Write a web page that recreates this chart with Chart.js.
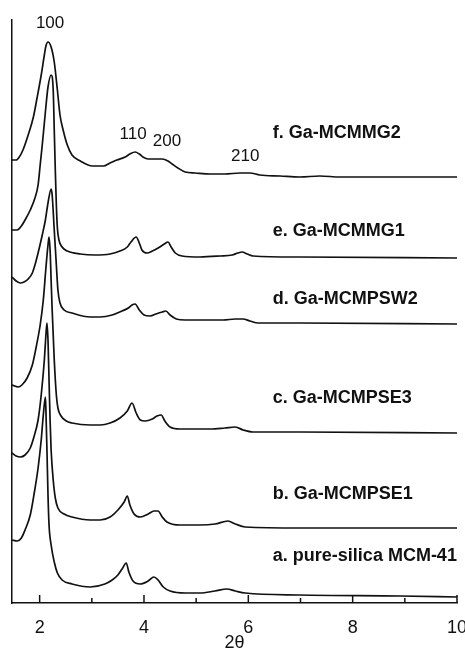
<!DOCTYPE html>
<html>
<head>
<meta charset="utf-8">
<script src="https://cdn.jsdelivr.net/npm/chart.js@4.4.1/dist/chart.umd.min.js"></script>
<style>
  body { margin: 0; background: #fff; }
  canvas { display: block; }
</style>
</head>
<body>
<canvas id="xrdChart" width="465" height="652"></canvas>
<script>
// 2θ (deg) and stacked intensity (a.u.) for each sample
const angleA = [1.47,1.57,1.65,1.72,1.82,1.89,1.97,2.03,2.07,2.11,2.12,2.14,2.16,2.18,2.22,2.28,2.34,2.43,2.62,2.97,3.25,3.39,3.50,3.58,3.66,3.71,3.79,3.93,4.08,4.19,4.27,4.37,4.50,4.79,5.07,5.36,5.59,5.75,5.94,6.99,8.91,10.00];
const intensityA = [63,62,65,73,88,108,135,163,188,206,193,153,108,78,58,41,30,23,19,16,19,23,28,34,40,31,22,19,22,26,23,16,12,10,10,12,14,12,10,8,7,6];

const angleB = [1.47,1.55,1.63,1.72,1.82,1.89,1.97,2.03,2.09,2.12,2.14,2.16,2.18,2.20,2.22,2.26,2.30,2.35,2.47,2.62,2.97,3.16,3.35,3.50,3.62,3.68,3.73,3.81,3.93,4.08,4.19,4.27,4.35,4.44,4.69,5.07,5.36,5.61,5.75,5.94,6.99,10.00];
const intensityB = [150,147,146,148,155,166,183,208,243,268,280,263,223,183,153,123,105,95,89,86,83,83,86,93,101,107,98,89,86,89,92,92,86,81,78,78,79,82,79,76,75,75];

const angleC = [1.47,1.59,1.66,1.76,1.86,1.93,2.01,2.07,2.12,2.16,2.18,2.20,2.22,2.24,2.28,2.32,2.35,2.41,2.51,2.62,2.97,3.16,3.35,3.54,3.68,3.77,3.85,3.93,4.02,4.16,4.25,4.33,4.40,4.50,4.69,5.27,5.55,5.75,5.90,6.09,6.99,10.00];
const intensityC = [218,216,218,225,238,255,278,303,335,358,366,353,323,293,243,208,195,187,182,180,178,178,180,185,192,200,190,183,182,184,187,188,182,176,174,174,175,176,173,171,171,170];

const angleD = [1.47,1.55,1.63,1.70,1.78,1.86,1.91,1.97,2.05,2.11,2.16,2.22,2.24,2.28,2.32,2.35,2.39,2.47,2.62,2.97,3.16,3.39,3.58,3.70,3.77,3.83,3.91,4.00,4.12,4.23,4.35,4.42,4.50,4.62,4.79,5.07,5.52,5.75,5.90,6.03,6.19,6.99,10.00];
const intensityD = [326,322,320,321,324,330,338,350,368,383,400,414,408,373,338,313,300,293,290,286,286,288,292,295,298,299,293,288,287,289,291,292,288,284,283,283,283,284,284,282,280,280,279];

const angleE = [1.47,1.57,1.65,1.72,1.82,1.91,1.97,2.01,2.05,2.11,2.16,2.22,2.26,2.28,2.30,2.32,2.34,2.37,2.43,2.53,2.78,3.06,3.35,3.54,3.68,3.75,3.85,3.91,3.96,4.06,4.16,4.27,4.39,4.46,4.52,4.60,4.73,5.07,5.46,5.69,5.80,5.88,5.98,6.09,6.99,10.00];
const intensityE = [373,373,377,383,393,405,418,438,458,491,516,528,513,473,433,398,375,363,356,352,349,348,349,352,356,361,366,360,353,350,352,355,359,361,356,350,347,346,347,348,350,351,349,347,346,345];

const angleF = [1.47,1.55,1.61,1.68,1.78,1.88,1.95,2.03,2.09,2.12,2.16,2.22,2.28,2.34,2.39,2.45,2.53,2.62,2.78,3.01,3.22,3.35,3.48,3.64,3.73,3.83,3.91,3.98,4.08,4.21,4.35,4.46,4.54,4.65,4.79,4.98,5.27,5.55,5.84,6.03,6.22,6.61,6.99,7.37,7.76,8.14,8.91,10.00];
const intensityF = [443,443,446,453,468,486,505,528,548,557,561,556,541,513,488,473,458,448,442,437,437,440,443,446,449,451,449,446,444,444,444,442,439,435,431,430,429,429,430,430,428,427,426,427,426,426,426,426];

const sampleNames = ['a. pure-silica MCM-41', 'b. Ga-MCMPSE1', 'c. Ga-MCMPSE3', 'd. Ga-MCMPSW2', 'e. Ga-MCMMG1', 'f. Ga-MCMMG2'];
const hklLabels = ['100', '110', '200', '210'];

const series = [
    [angleA, intensityA], [angleB, intensityB], [angleC, intensityC],
    [angleD, intensityD], [angleE, intensityE], [angleF, intensityF]
];

const FONT = '"Liberation Sans", Arial, Helvetica, sans-serif';

// where the texts sit, in data units (2θ, intensity)
const hklAt = [[2.20, 580], [3.79, 469], [4.44, 462], [5.94, 447]];
const sampleLabelAt = [47, 109, 205, 304, 372, 470];

const overlay = {
    id: 'overlay',
    afterDraw(chart) {
        const { ctx, scales: { x, y } } = chart;
        ctx.save();
        // inward tick marks on the 2θ axis
        ctx.strokeStyle = '#111';
        ctx.lineWidth = 1.5;
        x.ticks.forEach(t => {
            const px = x.getPixelForValue(t.value);
            const len = t.value % 2 === 0 ? 8 : 5;
            ctx.beginPath();
            ctx.moveTo(px, y.bottom);
            ctx.lineTo(px, y.bottom - len);
            ctx.stroke();
        });
        ctx.fillStyle = '#111';
        ctx.textBaseline = 'middle';
        ctx.textAlign = 'center';
        ctx.font = '17px ' + FONT;
        hklLabels.forEach((txt, i) => {
            ctx.fillText(txt, x.getPixelForValue(hklAt[i][0]), y.getPixelForValue(hklAt[i][1]));
        });
        ctx.textAlign = 'left';
        ctx.font = 'bold 18px ' + FONT;
        sampleNames.forEach((name, i) => {
            ctx.fillText(name, x.getPixelForValue(6.47), y.getPixelForValue(sampleLabelAt[i]));
        });
        ctx.restore();
    }
};

const ctx = document.getElementById('xrdChart').getContext('2d');
const xrdChart = new Chart(ctx, {
    type: 'line',
    data: {
        datasets: series.map(([ang, inten], i) => ({
            label: sampleNames[i],
            data: ang.map((a, k) => ({ x: a, y: inten[k] })),
            borderColor: '#111',
            borderWidth: 1.7,
            pointRadius: 0,
            fill: false,
            cubicInterpolationMode: 'monotone'
        }))
    },
    options: {
        responsive: false,
        animation: false,
        devicePixelRatio: 1,
        layout: { padding: { left: 12, right: 8, top: 20, bottom: 0 } },
        plugins: {
            legend: { display: false },
            tooltip: { enabled: false }
        },
        scales: {
            x: {
                type: 'linear',
                min: 1.47,
                max: 10,
                afterFit: (scale) => {
                    scale.height = 49;
                    scale.paddingLeft = 0;
                    scale.paddingRight = 0;
                },
                grid: { display: false, drawTicks: false },
                border: { display: true, color: '#111', width: 1.5 },
                ticks: {
                    stepSize: 1,
                    includeBounds: false,
                    autoSkip: false,
                    maxRotation: 0,
                    padding: 14,
                    color: '#111',
                    font: { family: FONT, size: 18 },
                    callback: (v) => (v % 2 === 0 ? v : '')
                },
                title: {
                    display: true,
                    text: '2θ',
                    color: '#111',
                    font: { family: FONT, size: 18, lineHeight: 1 },
                    padding: { top: 0, bottom: 0 }
                }
            },
            y: {
                min: 0,
                max: 583,
                afterFit: (scale) => { scale.width = 0; },
                grid: { display: false, drawTicks: false },
                border: { display: true, color: '#111', width: 1.5 },
                ticks: { display: false }
            }
        }
    },
    plugins: [overlay]
});
</script>
</body>
</html>
